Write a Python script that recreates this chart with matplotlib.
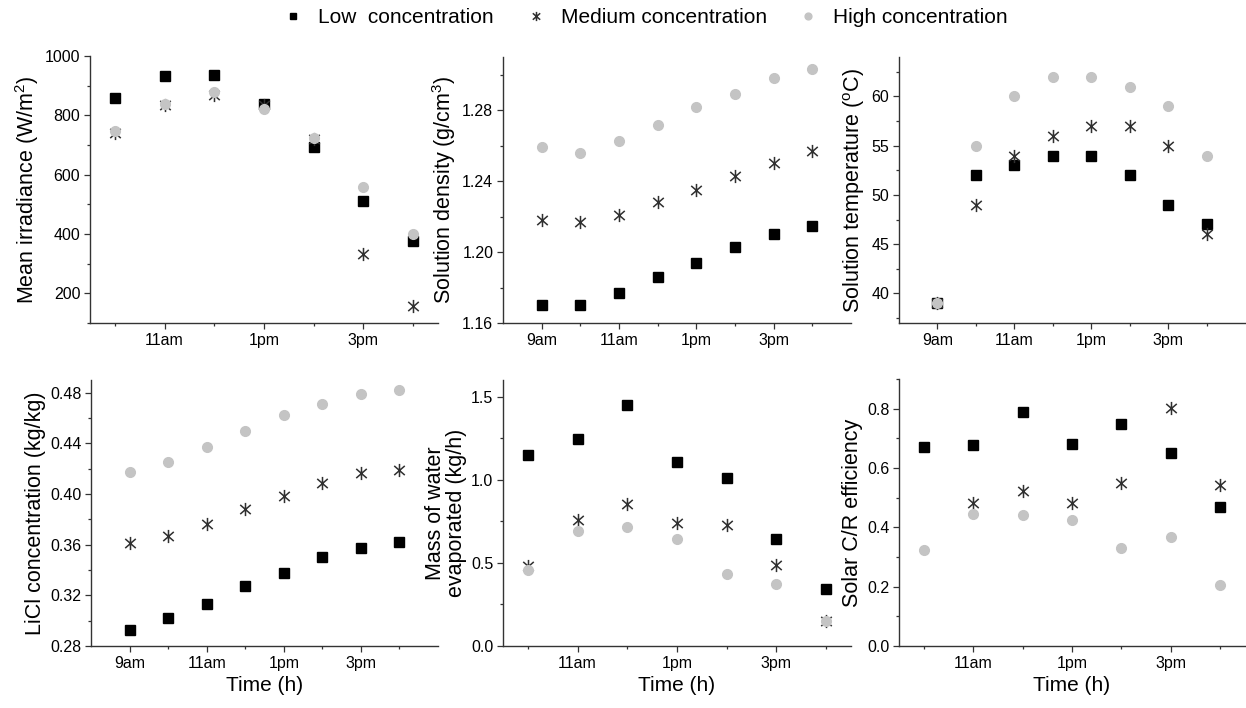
import numpy as np
import matplotlib
matplotlib.use('Agg')
import matplotlib.pyplot as plt
from matplotlib.path import Path
from matplotlib.ticker import MultipleLocator, FixedLocator, FixedFormatter

plt.rcParams['font.family'] = ['Liberation Sans', 'DejaVu Sans']
plt.rcParams['mathtext.fontset'] = 'custom'
plt.rcParams['mathtext.rm'] = 'Liberation Sans'
plt.rcParams['mathtext.default'] = 'regular'

# Hours of the day (9am .. 4pm)
hours_full = [9, 10, 11, 12, 13, 14, 15, 16]
hours_late = [10, 11, 12, 13, 14, 15, 16]
tick_hours = [9, 11, 13, 15]
tick_labels = ['9am', '11am', '1pm', '3pm']

# Mean irradiance (W/m2)
irr_low = [859, 931, 935, 839, 693, 510, 375]
irr_med = [740, 834, 867, 836, 720, 333, 156]
irr_high = [748, 837, 878, 822, 724, 560, 399]

# Solution density (g/cm3)
dens_low = [1.170, 1.170, 1.177, 1.186, 1.194, 1.203, 1.210, 1.2145]
dens_med = [1.218, 1.217, 1.221, 1.228, 1.235, 1.243, 1.250, 1.257]
dens_high = [1.259, 1.256, 1.2625, 1.2715, 1.282, 1.289, 1.298, 1.3035]

# Solution temperature (oC)
temp_low = [39, 52, 53, 54, 54, 52, 49, 47]
temp_med = [39, 49, 54, 56, 57, 57, 55, 46]
temp_high = [39, 55, 60, 62, 62, 61, 59, 54]

# LiCl concentration (kg/kg)
conc_low = [0.2926, 0.302, 0.313, 0.327, 0.338, 0.350, 0.357, 0.362]
conc_med = [0.361, 0.367, 0.3765, 0.388, 0.3985, 0.409, 0.4165, 0.419]
conc_high = [0.4175, 0.425, 0.437, 0.450, 0.462, 0.471, 0.479, 0.482]

# Mass of water evaporated (kg/h)
evap_low = [1.148, 1.246, 1.448, 1.107, 1.009, 0.645, 0.340]
evap_med = [0.479, 0.755, 0.853, 0.741, 0.729, 0.489, 0.151]
evap_high = [0.457, 0.689, 0.717, 0.641, 0.435, 0.374, 0.152]

# Solar C/R efficiency
eff_low = [0.672, 0.677, 0.788, 0.680, 0.749, 0.651, 0.469]
eff_med = [np.nan, 0.482, 0.523, 0.483, 0.550, 0.801, 0.542]
eff_high = [0.325, 0.444, 0.442, 0.426, 0.330, 0.366, 0.207]

# asterisk marker (x with a vertical bar)
star = Path([(0, -1), (0, 1), (-0.8, -0.7), (0.8, 0.7), (-0.8, 0.7), (0.8, -0.7)],
            [Path.MOVETO, Path.LINETO] * 3)

W, H = 1246, 708
fig = plt.figure(figsize=(W / 100, H / 100), dpi=100)

def box(l, r, t, b):
    return [l / W, 1 - b / H, (r - l) / W, (b - t) / H]

panels = [
    (box(90, 438, 56, 323), hours_late, irr_low, irr_med, irr_high, (9.5, 16.5), (100, 1000), 200, 100,
     'Mean irradiance (W/m$^2$)', False),
    (box(503, 851, 57, 323), hours_full, dens_low, dens_med, dens_high, (8, 17), (1.16, 1.31), 0.04, 0.02,
     'Solution density (g/cm$^3$)', False),
    (box(899, 1245, 57, 323), hours_full, temp_low, temp_med, temp_high, (8, 17), (37, 64), 5, 2.5,
     'Solution temperature ($^o$C)', False),
    (box(91, 438, 380, 646), hours_full, conc_low, conc_med, conc_high, (8, 17), (0.28, 0.49), 0.04, 0.02,
     'LiCl concentration (kg/kg)', True),
    (box(503, 851, 380, 646), hours_late, evap_low, evap_med, evap_high, (9.5, 16.5), (0, 1.6), 0.5, 0.25,
     'Mass of water\nevaporated (kg/h)', True),
    (box(899, 1245, 379, 646), hours_late, eff_low, eff_med, eff_high, (9.5, 16.5), (0, 0.9), 0.2, 0.1,
     'Solar C/R efficiency', True),
]

spine_col = '#333333'
handles = None
for rect, x, low, med, high, xl, yl, ymaj, ymin, ylab, bottom in panels:
    ax = fig.add_axes(rect)
    ax.plot(x, low, ls='none', marker='s', ms=6.5, color='black', label='Low  concentration')
    ax.plot(x, med, ls='none', marker=star, ms=9.5, mfc='none', mec='#303030', mew=1.1,
            label='Medium concentration')
    ax.plot(x, high, ls='none', marker='o', ms=7, color='#c4c4c4', label='High concentration')
    ax.set_xlim(*xl)
    ax.set_ylim(*yl)
    ax.xaxis.set_major_locator(FixedLocator(tick_hours))
    ax.xaxis.set_major_formatter(FixedFormatter(tick_labels))
    ax.xaxis.set_minor_locator(FixedLocator([10, 12, 14, 16]))
    ax.yaxis.set_major_locator(MultipleLocator(ymaj))
    ax.yaxis.set_minor_locator(MultipleLocator(ymin))
    for s in ['top', 'right']:
        ax.spines[s].set_visible(False)
    for s in ['left', 'bottom']:
        ax.spines[s].set_color(spine_col)
        ax.spines[s].set_linewidth(1.0)
    ax.tick_params(which='major', direction='out', length=4, width=0.9, color=spine_col,
                   labelsize=11.5, pad=3)
    ax.tick_params(which='minor', direction='out', length=2.5, width=0.9, color=spine_col)
    ax.set_ylabel(ylab, fontsize=15.5, labelpad=3, linespacing=1.0)
    if bottom:
        ax.set_xlabel('Time (h)', fontsize=15, labelpad=4)
    if handles is None:
        handles, labels = ax.get_legend_handles_labels()

fig.legend(handles, labels, loc='upper center', bbox_to_anchor=(0.518, 1.015), ncol=3,
           frameon=False, fontsize=15, handlelength=1.0, handletextpad=0.7, columnspacing=1.5,
           markerscale=0.7)

fig.savefig('out.png', dpi=100)
